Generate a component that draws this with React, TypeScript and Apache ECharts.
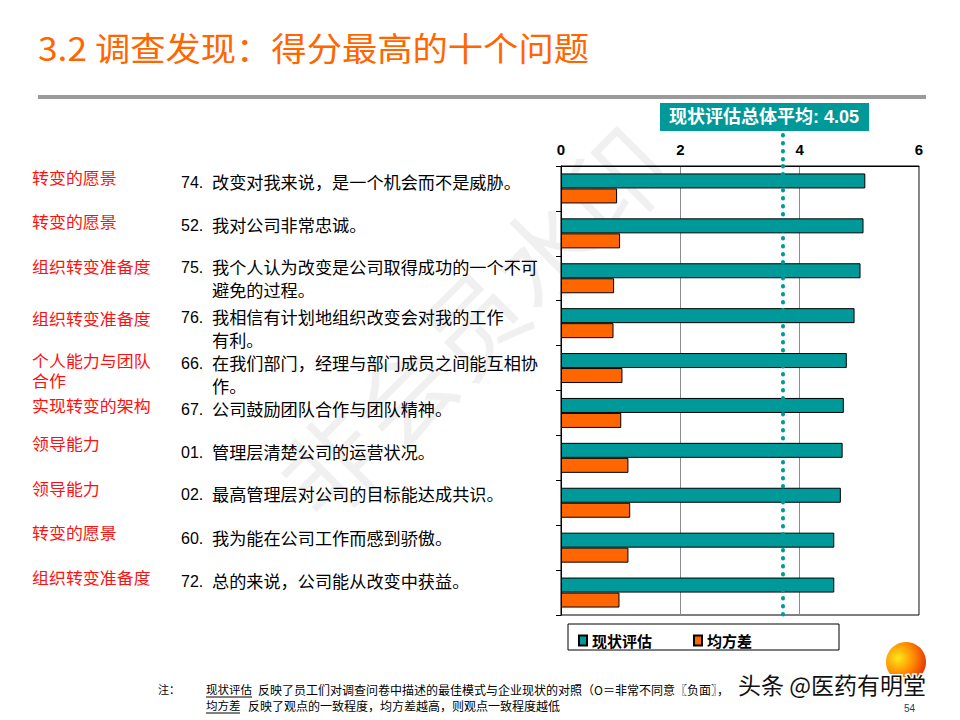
import React, { useEffect, useRef } from "react";
import * as echarts from "echarts";

// ---------- data ----------
const categories = [
  "转变的愿景",
  "转变的愿景",
  "组织转变准备度",
  "组织转变准备度",
  "个人能力与团队\n合作",
  "实现转变的架构",
  "领导能力",
  "领导能力",
  "转变的愿景",
  "组织转变准备度",
];
const questionNos = ["74.", "52.", "75.", "76.", "66.", "67.", "01.", "02.", "60.", "72."];
const questions = [
  "改变对我来说，是一个机会而不是威胁。",
  "我对公司非常忠诚。",
  "我个人认为改变是公司取得成功的一个不可\n避免的过程。",
  "我相信有计划地组织改变会对我的工作\n有利。",
  "在我们部门，经理与部门成员之间能互相协\n作。",
  "公司鼓励团队合作与团队精神。",
  "管理层清楚公司的运营状况。",
  "最高管理层对公司的目标能达成共识。",
  "我为能在公司工作而感到骄傲。",
  "总的来说，公司能从改变中获益。",
];
const seriesNames = ["现状评估", "均方差"];
const currentScores = [5.1, 5.07, 5.02, 4.92, 4.79, 4.74, 4.72, 4.69, 4.58, 4.58];
const stdDeviation = [0.94, 0.99, 0.89, 0.88, 1.03, 1.01, 1.13, 1.16, 1.13, 0.98];
const xAxisMin = 0;
const xAxisMax = 6;
const xAxisInterval = 2;
const overallAverageText = "4.05";
const averageMarkerValue = 3.72;

const titleText = "3.2 调查发现：得分最高的十个问题";
const noteLabel = "注：";
const noteTerms = ["现状评估", "均方差"];
const noteTexts = [
  "反映了员工们对调查问卷中描述的最佳模式与企业现状的对照（O＝非常不同意〖负面〗，",
  "反映了观点的一致程度，均方差越高，则观点一致程度越低",
];
const watermarkText = "头条 @医药有明堂";
const pageNumber = "54";
const faintWatermark = "非会员水印";

// ---------- layout (not data) ----------
const labelCenterY = [177, 221, 266, 318, 360, 405, 443, 488, 532, 577];
const questionCenterY = [182, 225, 267, 317, 363, 409, 452, 494, 538, 581];

const TEAL = "#009999";
const ORANGE = "#FF6600";
const CJK = "'Noto Sans CJK SC', sans-serif";
const LATIN_CJK = "'Liberation Sans', Arial, 'Noto Sans CJK SC', sans-serif";

export default function App() {
  const ref = useRef<HTMLDivElement>(null);

  useEffect(() => {
    if (!ref.current) return;
    const chart = echarts.init(ref.current, undefined, { renderer: "svg" });

    const baseOption: any = {
      animation: false,
      backgroundColor: "#ffffff",
      grid: {
        left: 561,
        top: 166,
        width: 358,
        height: 449,
        show: true,
        backgroundColor: "transparent",
        borderColor: "#000",
        borderWidth: 1,
        containLabel: false,
      },
      xAxis: {
        type: "value",
        position: "top",
        min: xAxisMin,
        max: xAxisMax,
        interval: xAxisInterval,
        axisLine: { show: true, lineStyle: { color: "#000", width: 1 } },
        axisTick: { show: false },
        axisLabel: {
          margin: 9,
          color: "#000",
          fontWeight: "bold",
          fontSize: 15,
          fontFamily: LATIN_CJK,
        },
        splitLine: { show: true, lineStyle: { color: "#8c8c8c", width: 1 } },
      },
      yAxis: {
        type: "category",
        inverse: true,
        data: categories,
        axisLine: { show: true, lineStyle: { color: "#000", width: 1 } },
        axisTick: { show: true, length: 5, lineStyle: { color: "#000" } },
        axisLabel: { show: false },
        splitLine: { show: false },
      },
      legend: {
        data: seriesNames,
        left: 573,
        top: 628,
        icon: "rect",
        itemWidth: 8,
        itemHeight: 10,
        itemGap: 41,
        textStyle: {
          color: "#000",
          fontWeight: "bold",
          fontSize: 15,
          fontFamily: CJK,
        },
      },
      series: [
        {
          name: seriesNames[0],
          type: "bar",
          data: currentScores,
          barWidth: 15,
          barGap: "0%",
          itemStyle: { color: TEAL, borderColor: "#000", borderWidth: 1 },
          markLine: {
            silent: true,
            symbol: ["none", "none"],
            label: { show: false },
            lineStyle: {
              color: TEAL,
              width: 4,
              type: [0.5, 7.5],
              cap: "round",
            },
            data: [{ xAxis: averageMarkerValue }],
          },
        },
        {
          name: seriesNames[1],
          type: "bar",
          data: stdDeviation,
          barWidth: 15,
          barGap: "0%",
          itemStyle: { color: ORANGE, borderColor: "#000", borderWidth: 1 },
        },
      ],
    };

    chart.setOption(baseOption);

    const markerX = chart.convertToPixel({ xAxisIndex: 0 }, averageMarkerValue) as number;

    const graphics: any[] = [];

    // faint diagonal watermark
    graphics.push({
      type: "text",
      z: -1,
      x: 470,
      y: 320,
      rotation: Math.PI / 4,
      silent: true,
      style: {
        text: faintWatermark,
        fill: "rgba(0,0,0,0.06)",
        fontSize: 100,
        fontFamily: CJK,
        align: "center",
        verticalAlign: "middle",
      },
    });

    // title
    graphics.push({
      type: "text",
      x: 38,
      y: 47,
      scaleX: 1.07,
      style: {
        text: titleText,
        fill: ORANGE,
        fontSize: 33,
        fontFamily: CJK,
        verticalAlign: "middle",
      },
    });
    // grey rule
    graphics.push({
      type: "rect",
      shape: { x: 38, y: 95, width: 888, height: 4 },
      style: { fill: "#9a9a9a" },
    });
    // average badge
    graphics.push({
      type: "rect",
      shape: { x: 660, y: 103, width: 209, height: 28 },
      style: { fill: TEAL },
    });
    graphics.push({
      type: "text",
      x: 764,
      y: 117,
      style: {
        text: "现状评估总体平均: " + overallAverageText,
        fill: "#fff",
        fontSize: 18,
        fontWeight: "bold",
        fontFamily: LATIN_CJK,
        align: "center",
        verticalAlign: "middle",
      },
    });
    // dotted marker extension above the plot
    graphics.push({
      type: "line",
      shape: { x1: markerX, y1: 135, x2: markerX, y2: 166 },
      style: { stroke: TEAL, lineWidth: 4, lineDash: [0.5, 7.5], lineCap: "round" },
    });

    // row labels
    categories.forEach((c, i) => {
      graphics.push({
        type: "text",
        x: 32,
        y: labelCenterY[i] - 10,
        scaleX: 1.06,
        style: {
          text: c,
          fill: "#FF1010",
          fontSize: 16,
          lineHeight: 20,
          fontFamily: CJK,
          verticalAlign: "top",
        },
      });
    });
    questions.forEach((q, i) => {
      graphics.push({
        type: "text",
        x: 181,
        y: questionCenterY[i] - 11.5,
        style: {
          text: questionNos[i],
          fill: "#000",
          fontSize: 16,
          lineHeight: 23,
          fontFamily: LATIN_CJK,
          verticalAlign: "top",
        },
      });
      graphics.push({
        type: "text",
        x: 212,
        y: questionCenterY[i] - 11.5,
        scaleX: 1.04,
        style: {
          text: q,
          fill: "#000",
          fontSize: 16.5,
          lineHeight: 23,
          fontFamily: CJK,
          verticalAlign: "top",
        },
      });
    });

    // legend frame
    graphics.push({
      type: "rect",
      z: 0,
      shape: { x: 568, y: 624, width: 271, height: 26 },
      style: { fill: "#fff", stroke: "#000", lineWidth: 1 },
    });

    // footnote
    graphics.push({
      type: "text",
      x: 158,
      y: 689,
      style: { text: noteLabel, fill: "#000", fontSize: 11, fontFamily: CJK, verticalAlign: "middle" },
    });
    const noteY = [689, 705];
    const termWidths = [46, 34];
    const restX = [258, 248];
    noteTerms.forEach((t, i) => {
      graphics.push({
        type: "text",
        x: 206,
        y: noteY[i],
        style: { text: t, fill: "#000", fontSize: 11.5, fontFamily: CJK, verticalAlign: "middle" },
      });
      graphics.push({
        type: "line",
        shape: { x1: 206, y1: noteY[i] + 8, x2: 206 + termWidths[i], y2: noteY[i] + 8 },
        style: { stroke: "#000", lineWidth: 1 },
      });
      graphics.push({
        type: "text",
        x: restX[i],
        y: noteY[i],
        style: { text: noteTexts[i], fill: "#000", fontSize: 12, fontFamily: CJK, verticalAlign: "middle" },
      });
    });

    // orange sphere
    graphics.push({
      type: "circle",
      shape: { cx: 906, cy: 662, r: 20 },
      style: {
        fill: {
          type: "radial",
          x: 0.3,
          y: 0.4,
          r: 0.8,
          colorStops: [
            { offset: 0, color: "#FFE81A" },
            { offset: 0.5, color: "#FF8A00" },
            { offset: 1, color: "#E0200A" },
          ],
        },
      },
    });
    // page number
    graphics.push({
      type: "text",
      x: 904,
      y: 708,
      style: { text: pageNumber, fill: "#1a3c6e", fontSize: 10, fontFamily: LATIN_CJK, verticalAlign: "middle" },
    });
    // overlay watermark
    graphics.push({
      type: "text",
      x: 738,
      y: 684,
      z: 100,
      style: {
        text: watermarkText,
        fill: "#111",
        stroke: "#fff",
        lineWidth: 3,
        fontSize: 23,
        fontFamily: CJK,
        verticalAlign: "middle",
      },
    });

    chart.setOption({ graphic: { elements: graphics } });

    return () => chart.dispose();
  }, []);

  return (
    <div
      ref={ref}
      style={{ position: "fixed", left: 0, top: 0, width: 960, height: 720, background: "#fff" }}
    />
  );
}
